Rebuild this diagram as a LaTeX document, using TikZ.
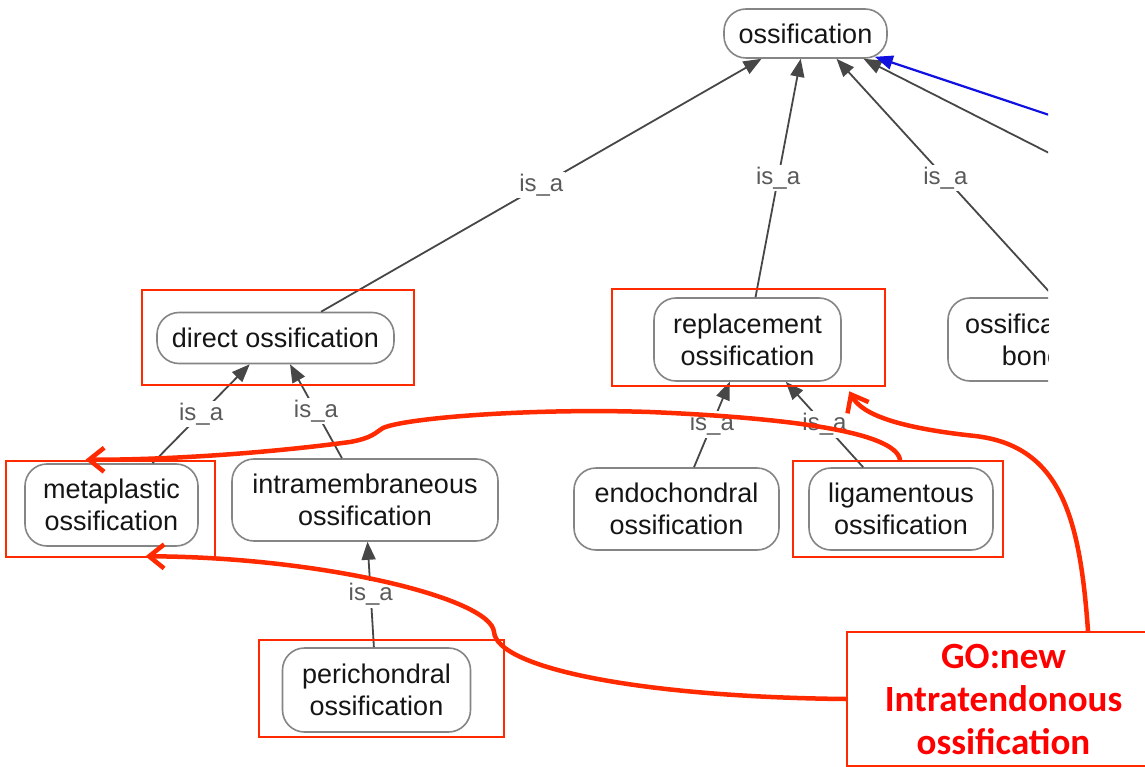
\documentclass[tikz,border=0pt]{standalone}
\usepackage{fontspec}
\setmainfont{Liberation Sans}
\newfontfamily\calfont{Carlito}
\usetikzlibrary{arrows.meta}
\definecolor{edgegray}{HTML}{474747}
\definecolor{nodeborder}{HTML}{858585}
\definecolor{annred}{HTML}{FF2A00}
\definecolor{gored}{HTML}{FF0000}
\definecolor{labgray}{HTML}{5A5A5A}
\definecolor{bluelink}{HTML}{1010E0}
\definecolor{termtext}{HTML}{151515}
\begin{document}
\begin{tikzpicture}[x=1pt,y=-1pt,
  term/.style={draw=nodeborder, line width=1.6pt, rounded corners=22pt, fill=white,
    align=center, inner sep=0pt, text=termtext, font=\fontsize{27}{32}\selectfont},
  isa/.style={draw=edgegray, line width=1.8pt, -{Triangle[length=18pt,width=14pt]}},
  lab/.style={fill=white, text=labgray, font=\fontsize{24}{24}\selectfont, inner sep=2pt},
  hibox/.style={draw=annred, line width=2.6pt, inner sep=0pt},
  annot/.style={draw=annred, line width=4.5pt, line cap=round,
    -{Straight Barb[length=15pt,width=24pt]}}
]
\useasboundingbox (0,0) rectangle (1145,767);
\clip (0,0) rectangle (1145,767);
\fill[white] (0,0) rectangle (1145,767);

\begin{scope}
\clip (0,0) rectangle (1048,767);
% terms
\node[term, minimum width=163pt, minimum height=49pt] (oss) at (805.5,33.5) {ossification};
\node[term, minimum width=237pt, minimum height=51pt] (direct) at (275.5,338) {direct ossification};
\node[term, minimum width=187pt, minimum height=83pt] (repl) at (747.5,339.5) {replacement\\ossification};
\node[term, minimum width=168pt, minimum height=83pt] (bone) at (1032,339.5) {ossification\\bone};
\node[term, minimum width=173pt, minimum height=82pt] (meta) at (111.5,505) {metaplastic\\ossification};
\node[term, minimum width=266pt, minimum height=82pt] (intra) at (365,500) {intramembraneous\\ossification};
\node[term, minimum width=205pt, minimum height=82pt] (endo) at (676.5,509) {endochondral\\ossification};
\node[term, minimum width=184pt, minimum height=82pt] (liga) at (901,509) {ligamentous\\ossification};
\node[term, minimum width=188pt, minimum height=84pt] (peri) at (376.5,690) {perichondral\\ossification};

\coordinate (offA) at (1250,255);
\coordinate (offB) at (1250,182);

% is_a edges
\draw[isa] (direct) -- node[lab]{is\_a} (oss);
\draw[isa] (repl) -- node[lab]{is\_a} (oss);
\draw[isa] ([xshift=107pt]bone.north west) -- node[lab]{is\_a} ([xshift=31pt]oss.south);
\draw[isa] (offA) -- ([xshift=58pt]oss.south);
\draw[draw=bluelink, line width=2.2pt, -{Triangle[length=18pt,width=14pt]}] (offB) -- ([xshift=-13pt,yshift=2pt]oss.south east);
\draw[isa] (meta) -- node[lab]{is\_a} (direct);
\draw[isa] (intra) -- node[lab]{is\_a} (direct);
\draw[isa] (peri) -- node[lab]{is\_a} (intra);
\draw[isa] (endo) -- node[lab]{is\_a} (repl);
\draw[isa] (liga) -- node[lab]{is\_a} (repl);
\end{scope}

% highlight boxes
\node[hibox, minimum width=272pt, minimum height=95pt] (hdirect) at (278,337.5) {};
\node[hibox, minimum width=273pt, minimum height=97pt] (hrepl) at (748.5,337.5) {};
\node[hibox, minimum width=209pt, minimum height=96pt] (hmeta) at (110.5,509) {};
\node[hibox, minimum width=210pt, minimum height=96pt] (hliga) at (898,509) {};
\node[hibox, minimum width=245pt, minimum height=97pt] (hperi) at (381.5,688.5) {};

% new term box
\node[draw=annred, line width=2.2pt, inner sep=0pt, minimum width=313pt, minimum height=134pt,
  align=center, text=gored, font=\calfont\bfseries\fontsize{37}{43}\selectfont]
  (go) at (1003.5,699) {GO:new\\Intratendonous\\ossification};

% annotation curves
\draw[annot] ([xshift=2pt]hliga.north) .. controls (895,432) and (790,418) .. (650,412)
  .. controls (530,408) and (405,418) .. (383,428)
  .. controls (375,433) and (372,438) .. (350,442)
  .. controls (260,454) and (160,460) .. ([xshift=-25pt]hmeta.north);
\draw[annot] (go.west) .. controls (640,697) and (497,668) .. (494,632)
  .. controls (491,598) and (320,557) .. ([xshift=35pt,yshift=2pt]hmeta.south);
\draw[annot] ([xshift=84.5pt]go.north) .. controls (1080,520) and (1062,446) .. (975,436)
  .. controls (900,428) and (862,415) .. ([xshift=-37pt,yshift=-4pt]hrepl.south east);
\end{tikzpicture}
\end{document}
